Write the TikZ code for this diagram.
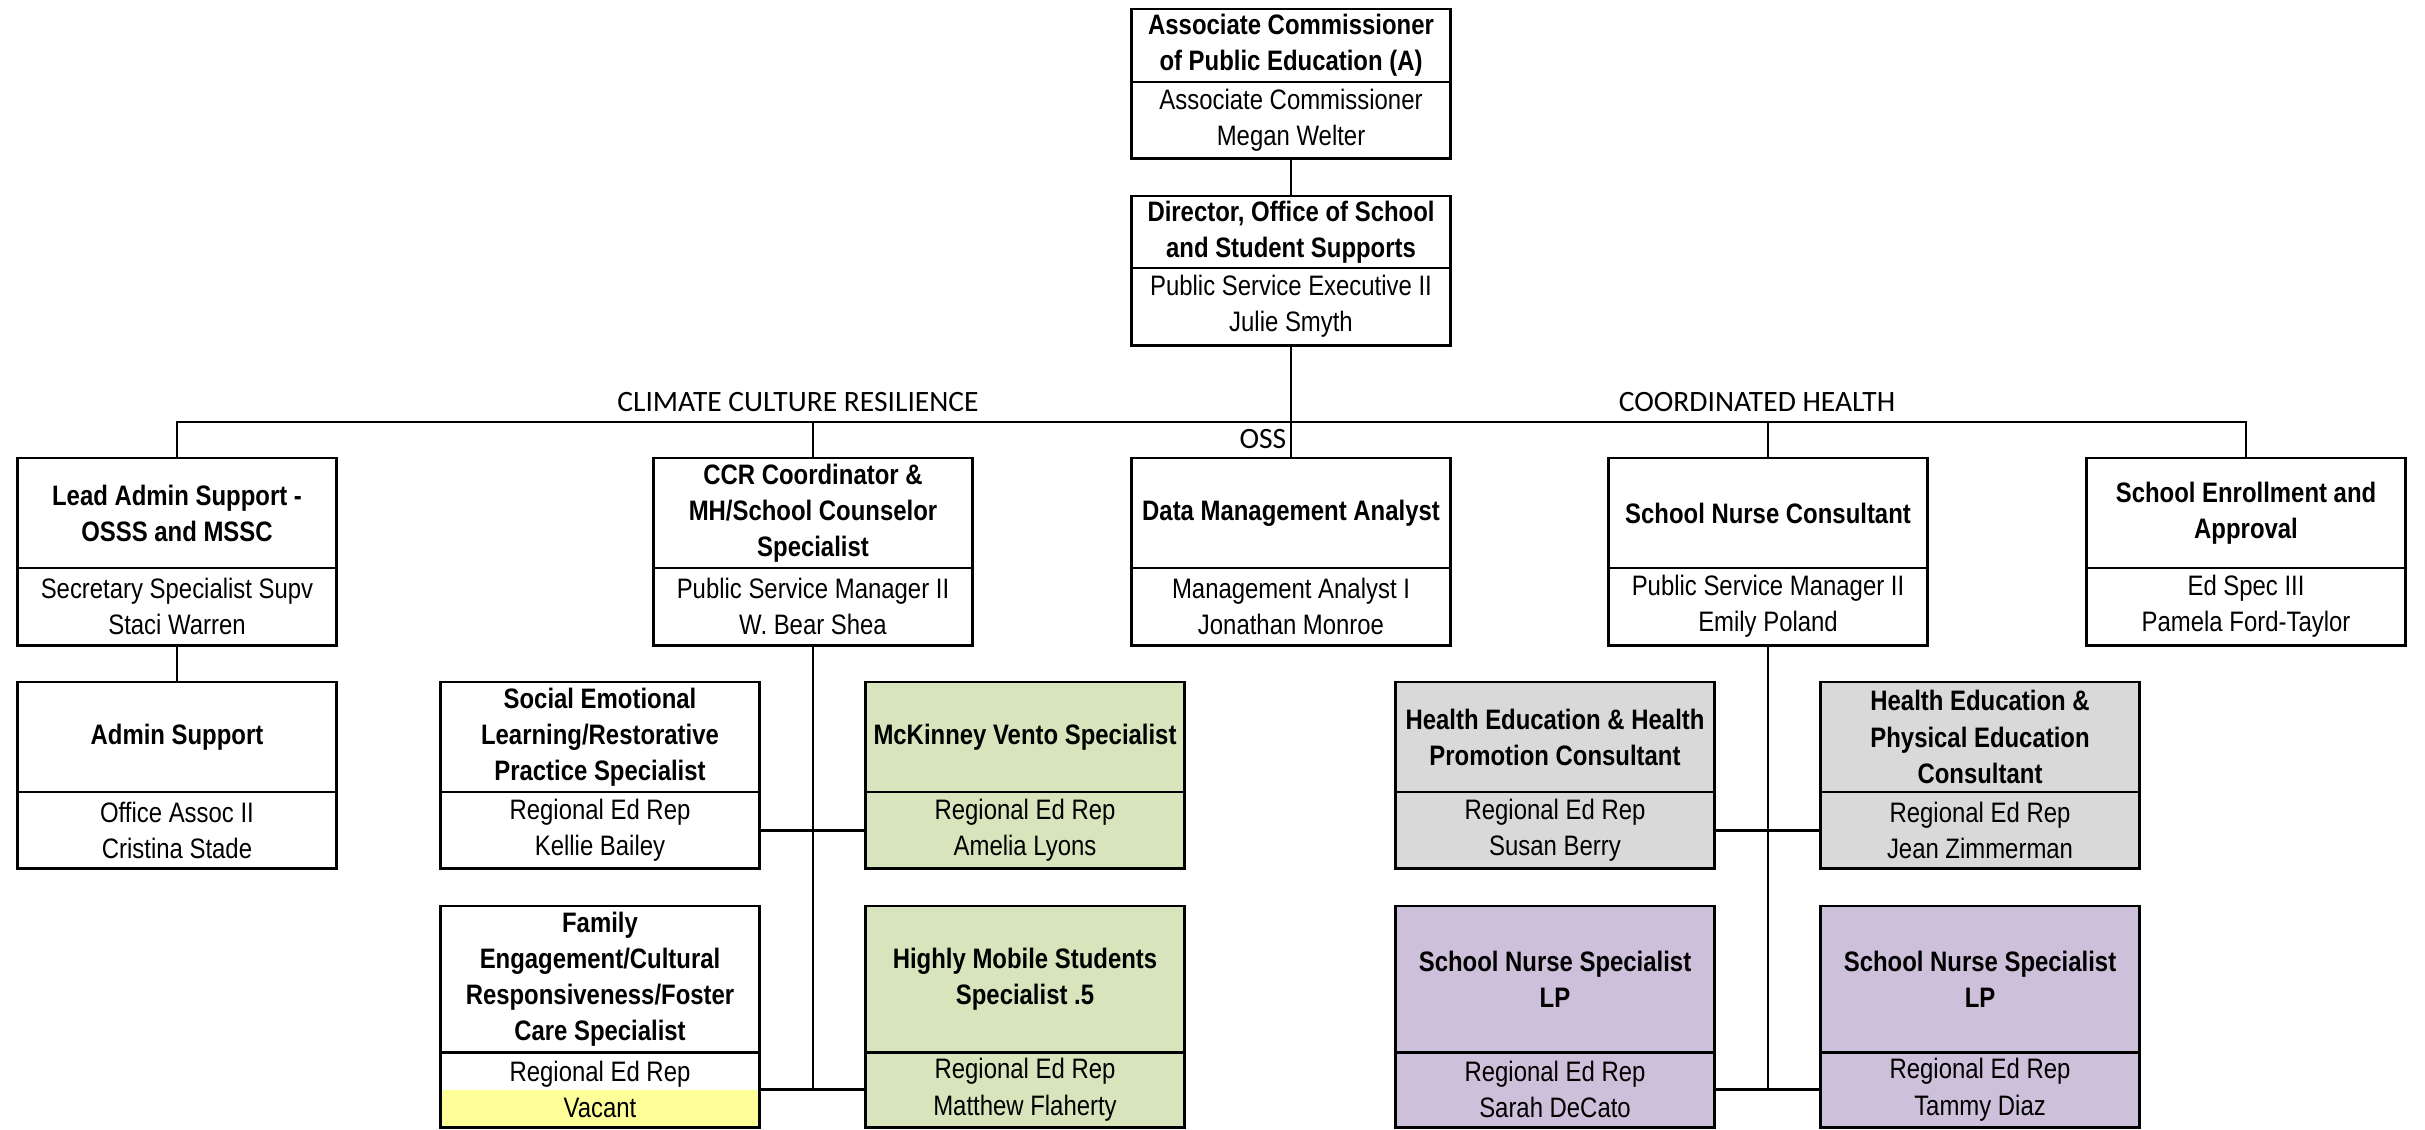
\documentclass[tikz,border=0pt]{standalone}
\usepackage{fontspec}
\setmainfont{Liberation Sans}[FakeStretch=0.85]
\newfontfamily\sectfont{Carlito}
\usetikzlibrary{positioning}
\definecolor{mvgreen}{RGB}{216,228,188}
\definecolor{hegrey}{RGB}{217,217,217}
\definecolor{snpurple}{RGB}{204,192,218}
\definecolor{vacyellow}{RGB}{255,255,153}
\newcommand{\orgfont}{\fontsize{8}{10.3}\selectfont}

\begin{document}
\begin{tikzpicture}[x=0.01cm, y=-0.01cm, every node/.style={font=\orgfont},
	titlebox/.style={draw, thick, fill=white, minimum width=3.19cm, inner sep=0pt, outer sep=0pt, align=center, anchor=north, font=\orgfont\bfseries},
	infobox/.style={draw, thick, fill=white, minimum width=3.19cm, minimum height=0.76cm, inner sep=0pt, outer sep=0pt, align=center},
	sect/.style={font=\sectfont\fontsize{8.4}{10}\selectfont},
	link/.style={thick}]
	\useasboundingbox (0,0) rectangle (2425,1129);

	\node[titlebox, minimum height=0.73cm] (ac) at (1291,9) {Associate Commissioner\\of Public Education (A)};
	\node[infobox, below=0pt of ac] (ac-i) {Associate Commissioner\\Megan Welter};
	\node[titlebox, minimum height=0.72cm] (dir) at (1291,196) {Director, Office of School\\and Student Supports};
	\node[infobox, minimum height=0.77cm, below=0pt of dir] (dir-i) {Public Service Executive II\\Julie Smyth};

	\node[titlebox, minimum height=1.10cm] (lead) at (177,458) {Lead Admin Support -\\OSSS and MSSC};
	\node[infobox, minimum height=0.77cm, below=0pt of lead] (lead-i) {Secretary Specialist Supv\\Staci Warren};
	\node[titlebox, minimum height=1.10cm] (ccr) at (813,458) {CCR Coordinator \&\\MH/School Counselor\\Specialist};
	\node[infobox, minimum height=0.77cm, below=0pt of ccr] (ccr-i) {Public Service Manager II\\W. Bear Shea};
	\node[titlebox, minimum height=1.10cm] (data) at (1291,458) {Data Management Analyst};
	\node[infobox, minimum height=0.77cm, below=0pt of data] (data-i) {Management Analyst I\\Jonathan Monroe};
	\node[titlebox, minimum height=1.10cm] (snc) at (1768,458) {School Nurse Consultant};
	\node[infobox, minimum height=0.77cm, below=0pt of snc] (snc-i) {Public Service Manager II\\Emily Poland};
	\node[titlebox, minimum height=1.10cm] (enr) at (2246,458) {School Enrollment and\\Approval};
	\node[infobox, minimum height=0.77cm, below=0pt of enr] (enr-i) {Ed Spec III\\Pamela Ford-Taylor};

	\node[titlebox, minimum height=1.10cm] (adm) at (177,682) {Admin Support};
	\node[infobox, below=0pt of adm] (adm-i) {Office Assoc II\\Cristina Stade};
	\node[titlebox, minimum height=1.10cm] (sel) at (600,682) {Social Emotional\\Learning/Restorative\\Practice Specialist};
	\node[infobox, below=0pt of sel] (sel-i) {Regional Ed Rep\\Kellie Bailey};
	\node[titlebox, minimum height=1.10cm, fill=mvgreen] (mck) at (1025,682) {McKinney Vento Specialist};
	\node[infobox, fill=mvgreen, below=0pt of mck] (mck-i) {Regional Ed Rep\\Amelia Lyons};
	\node[titlebox, minimum height=1.10cm, fill=hegrey] (hel) at (1555,682) {Health Education \& Health\\Promotion Consultant};
	\node[infobox, fill=hegrey, below=0pt of hel] (hel-i) {Regional Ed Rep\\Susan Berry};
	\node[titlebox, minimum height=1.10cm, fill=hegrey] (her) at (1980,682) {Health Education \&\\Physical Education\\Consultant};
	\node[infobox, fill=hegrey, below=0pt of her] (her-i) {Regional Ed Rep\\Jean Zimmerman};

	\node[titlebox, minimum height=1.46cm] (fam) at (600,906) {Family\\Engagement/Cultural\\Responsiveness/Foster\\Care Specialist};
	\node[infobox, minimum height=0.75cm, below=0pt of fam, path picture={\fill[vacyellow] (path picture bounding box.west) rectangle (path picture bounding box.south east);}] (fam-i) {Regional Ed Rep\\Vacant};
	\draw[thick] (fam-i.north west) rectangle (fam-i.south east);
	\node[titlebox, minimum height=1.46cm, fill=mvgreen] (hms) at (1025,906) {Highly Mobile Students\\Specialist .5};
	\node[infobox, minimum height=0.75cm, fill=mvgreen, below=0pt of hms] (hms-i) {Regional Ed Rep\\Matthew Flaherty};
	\node[titlebox, minimum height=1.46cm, fill=snpurple] (snl) at (1555,906) {School Nurse Specialist\\LP};
	\node[infobox, minimum height=0.75cm, fill=snpurple, below=0pt of snl] (snl-i) {Regional Ed Rep\\Sarah DeCato};
	\node[titlebox, minimum height=1.46cm, fill=snpurple] (snr) at (1980,906) {School Nurse Specialist\\LP};
	\node[infobox, minimum height=0.75cm, fill=snpurple, below=0pt of snr] (snr-i) {Regional Ed Rep\\Tammy Diaz};

	\coordinate (bus) at (1291,422);
	\draw[link] (ac-i) -- (dir);
	\draw[link] (dir-i) -- (data);
	\draw[link] (lead.north) |- (bus) -| (enr.north);
	\foreach \n in {ccr,snc}
	\draw[link] (\n.north) -- (\n.north |- bus);
	\draw[link] (lead-i) -- (adm);
	\draw[link] (ccr-i.south) -- (ccr-i.south |- fam-i.east);
	\draw[link] (sel-i) -- (mck-i);
	\draw[link] (fam-i) -- (hms-i);
	\draw[link] (snc-i.south) -- (snc-i.south |- snl-i.east);
	\draw[link] (hel-i) -- (her-i);
	\draw[link] (snl-i) -- (snr-i);

	\node[sect] (ccrlabel) at (798,402) {CLIMATE CULTURE RESILIENCE};
	\node[sect] (chlabel) at (1757,402) {COORDINATED HEALTH};
	\node[sect, anchor=east, inner sep=0pt] (osslabel) at (1287,439) {OSS};
\end{tikzpicture}
\end{document}
